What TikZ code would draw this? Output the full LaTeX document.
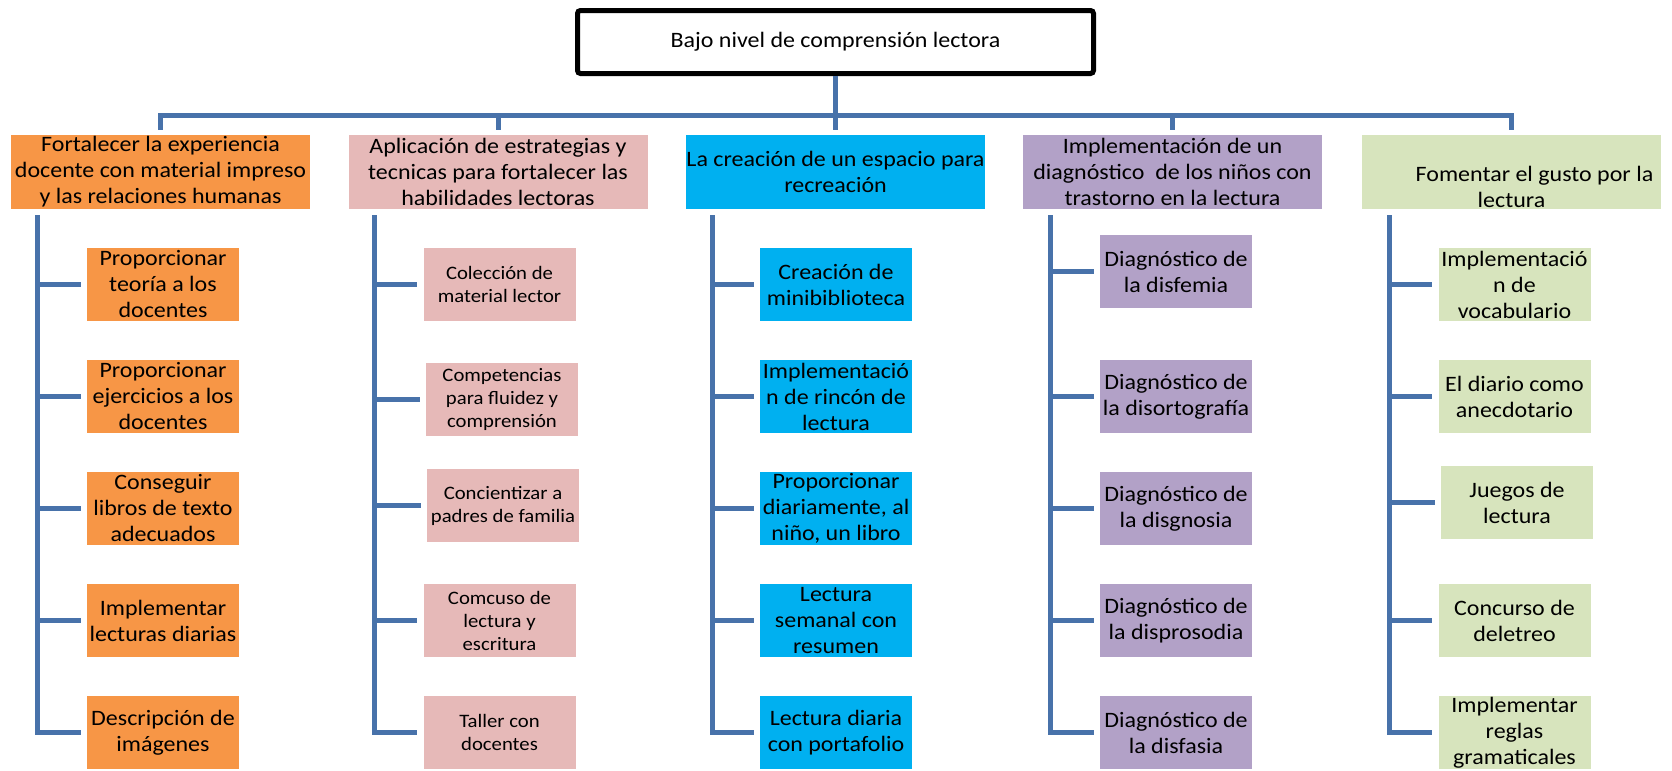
\documentclass[tikz,border=0pt]{standalone}
\usepackage{fontspec}
\setmainfont{Carlito}[FakeStretch=1.09]
\usepackage{tikz}

\definecolor{linkblue}{RGB}{72,114,170}
\definecolor{boxorange}{RGB}{247,150,70}
\definecolor{boxpink}{RGB}{230,185,184}
\definecolor{boxcyan}{RGB}{0,176,240}
\definecolor{boxpurple}{RGB}{178,161,199}
\definecolor{boxgreen}{RGB}{215,228,189}

\begin{document}
\begin{tikzpicture}[x=0.5pt,y=-0.5pt,
	link/.style={draw=linkblue,line width=2.5pt},
	rootbox/.style={draw=black,line width=2.5pt,rounded corners=1.5pt,minimum width=258pt,minimum height=31.5pt,inner sep=0pt,font=\fontsize{11}{13}\selectfont},
	headbox/.style={minimum width=149.5pt,minimum height=37pt,inner sep=0pt,align=center,font=\fontsize{11}{13}\selectfont},
	subbox/.style={minimum width=76pt,minimum height=36.5pt,inner sep=0pt,align=center,font=\fontsize{11}{13}\selectfont},
	smallbox/.style={subbox,font=\fontsize{9.5}{11.5}\selectfont}]
		\useasboundingbox (0,0) rectangle (1672,771);
		\clip (0,0) rectangle (1672,771);

		\node[rootbox] (root) at (835.5,42) {Bajo nivel de comprensión lectora};

		\node[headbox,fill=boxorange] (h1) at (160.5,172) {Fortalecer la experiencia\\docente con material impreso\\y las relaciones humanas};
		\node[headbox,fill=boxpink] (h2) at (498,172) {Aplicación de estrategias y\\tecnicas para fortalecer las\\habilidades lectoras};
		\node[headbox,fill=boxcyan] (h3) at (835.5,172) {La creación de un espacio para\\recreación};
		\node[headbox,fill=boxpurple] (h4) at (1172.5,172) {Implementación de un\\diagnóstico\ \ de los niños con\\trastorno en la lectura};
		\node[headbox,fill=boxgreen] (h5) at (1511.5,172) {\strut\\\hspace*{23pt}Fomentar el gusto por la\\lectura};

		\coordinate (bar) at (0,115);
		\draw[link] (root.south) |- (bar -| h1.north) -- ([yshift=2.5pt]h1.north);
		\draw[link] (root.south) |- (bar -| h2.north) -- ([yshift=2.5pt]h2.north);
		\draw[link] (root.south) -- ([yshift=2.5pt]h3.north);
		\draw[link] (root.south) |- (bar -| h4.north) -- ([yshift=2.5pt]h4.north);
		\draw[link] (root.south) |- (bar -| h5.north) -- ([yshift=2.5pt]h5.north);

		\node[subbox,fill=boxorange] (a1) at (163,284.5) {Proporcionar\\teoría a los\\docentes};
		\node[subbox,fill=boxorange] (a2) at (163,396.5) {Proporcionar\\ejercicios a los\\docentes};
		\node[subbox,fill=boxorange] (a3) at (163,508.5) {Conseguir\\libros de texto\\adecuados};
		\node[subbox,fill=boxorange] (a4) at (163,620.5) {Implementar\\lecturas diarias};
		\node[subbox,fill=boxorange] (a5) at (163,732.5) {Descripción de\\imágenes};

		\node[smallbox,fill=boxpink] (b1) at (499.5,284.5) {Colección de\\material lector};
		\node[smallbox,fill=boxpink] (b2) at (502,399.5) {Competencias\\para fluidez y\\comprensión};
		\node[smallbox,fill=boxpink] (b3) at (503,505.5) {Concientizar a\\padres de familia};
		\node[smallbox,fill=boxpink] (b4) at (499.5,620.5) {Comcuso de\\lectura y\\escritura};
		\node[smallbox,fill=boxpink] (b5) at (499.5,732.5) {Taller con\\docentes};

		\node[subbox,fill=boxcyan] (c1) at (836,284.5) {Creación de\\minibiblioteca};
		\node[subbox,fill=boxcyan] (c2) at (836,396.5) {Implementació\\n de rincón de\\lectura};
		\node[subbox,fill=boxcyan] (c3) at (836,508.5) {Proporcionar\\diariamente, al\\niño, un libro};
		\node[subbox,fill=boxcyan] (c4) at (836,620.5) {Lectura\\semanal con\\resumen};
		\node[subbox,fill=boxcyan] (c5) at (836,732.5) {Lectura diaria\\con portafolio};

		\node[subbox,fill=boxpurple] (d1) at (1176,271.5) {Diagnóstico de\\la disfemia};
		\node[subbox,fill=boxpurple] (d2) at (1176,396.5) {Diagnóstico de\\la disortografía};
		\node[subbox,fill=boxpurple] (d3) at (1176,508.5) {Diagnóstico de\\la disgnosia};
		\node[subbox,fill=boxpurple] (d4) at (1176,620.5) {Diagnóstico de\\la disprosodia};
		\node[subbox,fill=boxpurple] (d5) at (1176,732.5) {Diagnóstico de\\la disfasia};

		\node[subbox,fill=boxgreen] (e1) at (1514.5,284.5) {Implementació\\n de\\vocabulario};
		\node[subbox,fill=boxgreen] (e2) at (1514.5,396.5) {El diario como\\anecdotario};
		\node[subbox,fill=boxgreen] (e3) at (1517,502.5) {Juegos de\\lectura};
		\node[subbox,fill=boxgreen] (e4) at (1514.5,620.5) {Concurso de\\deletreo};
		\node[subbox,fill=boxgreen] (e5) at (1514.5,732.5) {Implementar\\reglas\\gramaticales};

		\coordinate (v1) at ([xshift=13.5pt,yshift=-3pt]h1.south west);
		\coordinate (v2) at ([xshift=13pt,yshift=-3pt]h2.south west);
		\coordinate (v3) at ([xshift=13.5pt,yshift=-3pt]h3.south west);
		\coordinate (v4) at ([xshift=14pt,yshift=-3pt]h4.south west);
		\coordinate (v5) at ([xshift=14pt,yshift=-3pt]h5.south west);

		\draw[link] (v1) |- ([xshift=-3pt]a1.west);
		\draw[link] (v1) |- ([xshift=-3pt]a2.west);
		\draw[link] (v1) |- ([xshift=-3pt]a3.west);
		\draw[link] (v1) |- ([xshift=-3pt]a4.west);
		\draw[link] (v1) |- ([xshift=-3pt]a5.west);

		\draw[link] (v2) |- ([xshift=-3pt]b1.west);
		\draw[link] (v2) |- ([xshift=-3pt]b2.west);
		\draw[link] (v2) |- ([xshift=-3pt]b3.west);
		\draw[link] (v2) |- ([xshift=-3pt]b4.west);
		\draw[link] (v2) |- ([xshift=-3pt]b5.west);

		\draw[link] (v3) |- ([xshift=-3pt]c1.west);
		\draw[link] (v3) |- ([xshift=-3pt]c2.west);
		\draw[link] (v3) |- ([xshift=-3pt]c3.west);
		\draw[link] (v3) |- ([xshift=-3pt]c4.west);
		\draw[link] (v3) |- ([xshift=-3pt]c5.west);

		\draw[link] (v4) |- ([xshift=-3pt]d1.west);
		\draw[link] (v4) |- ([xshift=-3pt]d2.west);
		\draw[link] (v4) |- ([xshift=-3pt]d3.west);
		\draw[link] (v4) |- ([xshift=-3pt]d4.west);
		\draw[link] (v4) |- ([xshift=-3pt]d5.west);

		\draw[link] (v5) |- ([xshift=-3pt]e1.west);
		\draw[link] (v5) |- ([xshift=-3pt]e2.west);
		\draw[link] (v5) |- ([xshift=-3pt]e3.west);
		\draw[link] (v5) |- ([xshift=-3pt]e4.west);
		\draw[link] (v5) |- ([xshift=-3pt]e5.west);
	\end{tikzpicture}
\end{document}
